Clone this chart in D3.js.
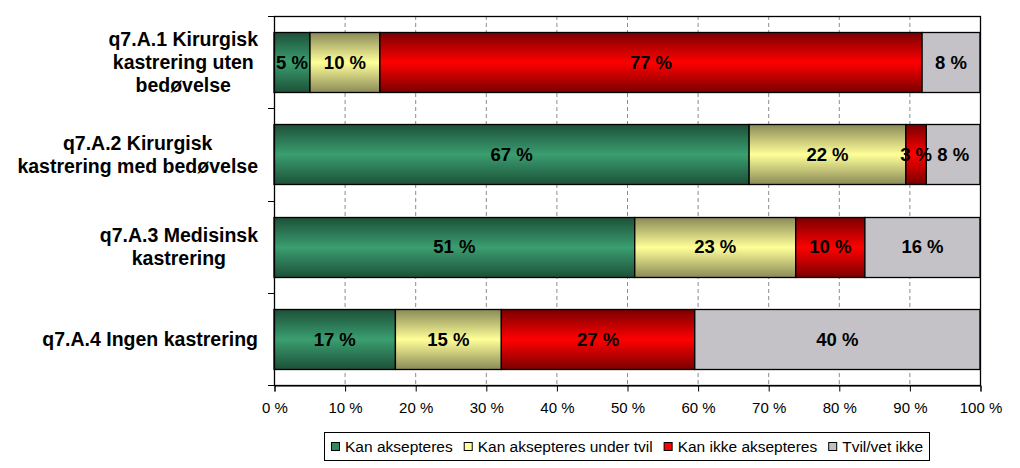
<!DOCTYPE html>
<html><head><meta charset="utf-8">
<script src="https://cdn.jsdelivr.net/npm/d3@7"></script>
<style>body{margin:0;background:#fff}svg{display:block}</style>
</head><body><svg id="c" width="1020" height="468"></svg>
<script>
const categories = [
  ["q7.A.1 Kirurgisk","kastrering uten","bedøvelse"],
  ["q7.A.2 Kirurgisk","kastrering med bedøvelse"],
  ["q7.A.3 Medisinsk","kastrering"],
  ["q7.A.4 Ingen kastrering"]
];
const seriesNames = ["Kan aksepteres","Kan aksepteres under tvil","Kan ikke aksepteres","Tvil/vet ikke"];
const kanAksepteres      = [5.1, 67.3, 51.1, 17.2];
const underTvil          = [9.9, 22.2, 22.8, 15.0];
const kanIkkeAksepteres  = [76.8, 2.9, 9.8, 27.4];
const tvilVetIkke        = [8.2, 7.6, 16.3, 40.4];
const xTicks = [0,10,20,30,40,50,60,70,80,90,100];

const series = [kanAksepteres, underTvil, kanIkkeAksepteres, tvilVetIkke];
const FONT = "Liberation Sans, Arial, sans-serif";
const svg = d3.select("#c");
const L=274, R=980, T=16, B=385;
const x = d3.scaleLinear().domain([0,100]).range([L,R]);
const y = d3.scaleBand().domain(d3.range(categories.length)).range([T,B]).paddingInner(0.35).paddingOuter(0.175);
const yb = d3.scaleBand().domain(d3.range(categories.length)).range([T,B]);

const defs = svg.append("defs");
const grads = [
  ["#1d5038","#3a9e70"],
  ["#8a8a58","#ffff99"],
  ["#7a0000","#ff0000"],
  ["#c4c2c6","#c4c2c6"]
];
grads.forEach((g,i)=>{
  const lg = defs.append("linearGradient").attr("id","g"+i).attr("x1",0).attr("x2",0).attr("y1",0).attr("y2",1);
  lg.append("stop").attr("offset","0%").attr("stop-color",g[0]);
  lg.append("stop").attr("offset","50%").attr("stop-color",g[1]);
  lg.append("stop").attr("offset","100%").attr("stop-color",g[0]);
});
const legendColors = ["#2f8a5e","#ffff99","#ff0000","#c0c0c0"];

// gridlines
svg.append("g").selectAll("line").data(xTicks.filter(t=>t>0&&t<100)).join("line")
  .attr("x1",d=>x(d)+0.5).attr("x2",d=>x(d)+0.5).attr("y1",T).attr("y2",B)
  .attr("stroke","#8c8c8c").attr("stroke-dasharray","4,3");

// stacked bars
const stacked = categories.map((c,i)=>{
  let acc=0;
  return series.map((s,k)=>{const d={i,k,x0:acc,x1:acc+s[i],v:s[i]};acc+=s[i];return d;});
}).flat();

const bars = svg.append("g");
bars.selectAll("rect").data(stacked).join("rect")
  .attr("x",d=>x(d.x0)).attr("width",d=>x(d.x1)-x(d.x0))
  .attr("y",d=>Math.round(y(d.i))+0.5).attr("height",Math.round(y.bandwidth()))
  .attr("fill",d=>"url(#g"+d.k+")").attr("stroke","#000").attr("stroke-width",1.3);
bars.selectAll("text").data(stacked).join("text")
  .attr("x",d=>(x(d.x0)+x(d.x1))/2).attr("y",d=>y(d.i)+y.bandwidth()/2)
  .attr("dy","0.36em").attr("text-anchor","middle")
  .attr("font-family",FONT).attr("font-weight","bold").attr("font-size",18.5)
  .text(d=>Math.round(d.v)+" %");

// plot border
svg.append("rect").attr("x",L+0.5).attr("y",T+0.5).attr("width",R-L).attr("height",B-T)
  .attr("fill","none").attr("stroke","#000").attr("stroke-width",1.3);

// x axis
const xa = svg.append("g").attr("transform",`translate(0.5,${B+0.5})`)
  .call(d3.axisBottom(x).tickValues(xTicks).tickFormat(d=>d+" %").tickSize(6).tickPadding(11));
xa.select(".domain").attr("stroke","#000");
xa.selectAll("text").attr("font-family",FONT).attr("font-size",15).attr("fill","#000");

// left ticks at band boundaries
const bounds = d3.range(categories.length+1).map(i=>T+i*yb.step());
svg.append("g").selectAll("line").data(bounds).join("line")
  .attr("x1",L-6).attr("x2",L).attr("y1",d=>Math.round(d)+0.5).attr("y2",d=>Math.round(d)+0.5)
  .attr("stroke","#000");

// category labels
const lh = 23;
categories.forEach((lines,i)=>{
  const g = svg.append("g");
  const cy = yb(i)+yb.bandwidth()/2;
  const t = g.selectAll("text").data(lines).join("text")
    .attr("y",(d,j)=>cy+(j-(lines.length-1)/2)*lh).attr("dy","0.36em")
    .attr("text-anchor","middle")
    .attr("font-family",FONT).attr("font-weight","bold").attr("font-size",19.5)
    .text(d=>d);
  let w=0; t.each(function(){w=Math.max(w,this.getComputedTextLength());});
  t.attr("x",258-w/2);
});

// legend
const lg = svg.append("g");
lg.append("rect").attr("x",324.5).attr("y",432.5).attr("width",605).attr("height",28).attr("fill","#fff").attr("stroke","#000");
let lx = 331;
seriesNames.forEach((n,k)=>{
  lg.append("rect").attr("x",lx+0.5).attr("y",442.5).attr("width",8).attr("height",8).attr("fill",legendColors[k]).attr("stroke","#000");
  const t = lg.append("text").attr("x",lx+14).attr("y",446.5).attr("dy","0.36em")
    .attr("font-family",FONT).attr("font-size",15.5).text(n);
  lx += 14 + t.node().getComputedTextLength() + 11;
});
</script></body></html>
